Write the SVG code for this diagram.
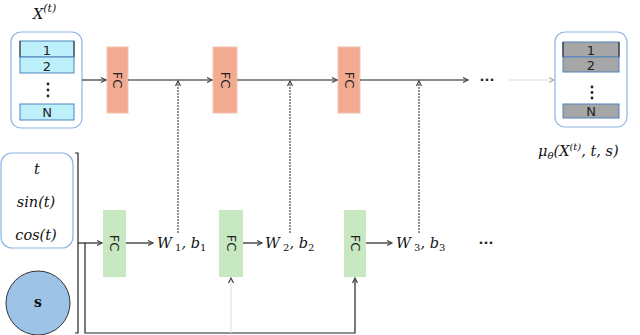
<svg xmlns="http://www.w3.org/2000/svg" width="640" height="335" viewBox="0 0 640 335">
<style>
.fco{fill:#f2ab90;stroke:#f6c4b0;stroke-width:1}
.fcg{fill:#c8e8c2}
.fct{font-family:"DejaVu Sans",sans-serif;font-size:13px;fill:#222}
.rowc{fill:#bdf0fa;stroke:#4f81bd;stroke-width:1}
.rowg{fill:#a6a6a6;stroke:#4f81bd;stroke-width:1}
.rt{font-family:"DejaVu Sans",sans-serif;font-size:13px;fill:#222;text-anchor:middle}
.box{fill:#fff;stroke:#8db4e2;stroke-width:1.2}
.math{font-family:"DejaVu Serif",serif;font-style:italic;font-size:14.5px;fill:#111}
.sub{font-size:10px;font-style:normal}
.main{fill:none;stroke:#666;stroke-width:1.6}
.dot{fill:none;stroke:#222;stroke-width:1;stroke-dasharray:2,1}
.blk{fill:none;stroke:#222;stroke-width:1.2}
</style>
<defs>
<marker id="ah" markerWidth="8" markerHeight="8" refX="6" refY="4" orient="auto" markerUnits="userSpaceOnUse">
<path d="M1,1.5 L6,4 L1,6.5" fill="none" stroke="#444" stroke-width="1.2"/>
</marker>
<marker id="ahl" markerWidth="8" markerHeight="8" refX="6" refY="4" orient="auto" markerUnits="userSpaceOnUse">
<path d="M1,1.5 L6,4 L1,6.5" fill="none" stroke="#999" stroke-width="1"/>
</marker>
</defs>

<text x="33" y="19" class="math" font-size="16">X<tspan dy="-7" font-size="11">(t)</tspan></text>

<g id="input-x">
<rect x="11" y="32" width="71" height="96" rx="10" class="box"/>
<rect x="20" y="41" width="54" height="16" class="rowc"/>
<line x1="20" y1="41" x2="20" y2="57" stroke="#444" stroke-width="1.2"/>
<line x1="74" y1="41" x2="74" y2="57" stroke="#444" stroke-width="1.2"/>
<text x="47" y="54.5" class="rt">1</text>
<rect x="20" y="57" width="54" height="16" class="rowc"/>
<text x="47" y="70.5" class="rt">2</text>
<circle cx="48" cy="84" r="1.4" fill="#222"/>
<circle cx="48" cy="90" r="1.4" fill="#222"/>
<circle cx="48" cy="96" r="1.4" fill="#222"/>
<rect x="20" y="104" width="54" height="16" class="rowc"/>
<text x="47" y="117" class="rt">N</text>
</g>

<g id="fc-top-1"><rect x="107" y="47" width="21" height="66" class="fco"/><text transform="translate(113,80) rotate(90)" class="fct" text-anchor="middle">FC</text></g>
<g id="fc-top-2"><rect x="213" y="47" width="24" height="66" class="fco"/><text transform="translate(220.5,80) rotate(90)" class="fct" text-anchor="middle">FC</text></g>
<g id="fc-top-3"><rect x="338" y="47" width="22" height="66" class="fco"/><text transform="translate(344.5,80) rotate(90)" class="fct" text-anchor="middle">FC</text></g>

<g id="top-dots"><text x="487" y="84" font-family="DejaVu Sans,sans-serif" font-size="13" font-weight="bold" text-anchor="middle" fill="#222">···</text></g>

<g id="output">
<rect x="555" y="32" width="72" height="95" rx="10" class="box"/>
<rect x="563" y="42" width="56" height="15" class="rowg"/>
<line x1="563" y1="42" x2="563" y2="57" stroke="#333" stroke-width="1.2"/>
<line x1="619" y1="42" x2="619" y2="57" stroke="#333" stroke-width="1.2"/>
<text x="591" y="55" class="rt">1</text>
<rect x="563" y="57" width="56" height="15" class="rowg"/>
<text x="591" y="69.5" class="rt">2</text>
<circle cx="592" cy="87" r="1.4" fill="#222"/>
<circle cx="592" cy="92.5" r="1.4" fill="#222"/>
<circle cx="592" cy="98" r="1.4" fill="#222"/>
<rect x="563" y="104" width="56" height="14" class="rowg"/>
<text x="591" y="116" class="rt">N</text>
</g>
<text x="538" y="156" class="math">μ<tspan dy="3" font-size="10">θ</tspan><tspan dy="-3">(X</tspan><tspan dy="-6" font-size="10">(t)</tspan><tspan dy="6">, t, s)</tspan></text>

<g id="input-t">
<rect x="1" y="153" width="72" height="95" rx="11" class="box"/>
<text x="37" y="174" class="math" text-anchor="middle">t</text>
<text x="36" y="207" class="math" text-anchor="middle">sin(t)</text>
<text x="36" y="240" class="math" text-anchor="middle">cos(t)</text>
</g>

<g id="input-s">
<circle cx="38" cy="303" r="32" fill="#9dc3e6" stroke="#333" stroke-width="1"/>
<text x="38" y="307" font-family="DejaVu Serif,serif" font-weight="bold" font-size="14" text-anchor="middle" fill="#111">s</text>
</g>

<g id="fc-bot-1"><rect x="103" y="210" width="23" height="67" class="fcg"/><text transform="translate(110,243) rotate(90)" class="fct" text-anchor="middle">FC</text></g>
<g id="fc-bot-2"><rect x="219" y="210" width="24" height="67" class="fcg"/><text transform="translate(226.5,243) rotate(90)" class="fct" text-anchor="middle">FC</text></g>
<g id="fc-bot-3"><rect x="344" y="210" width="22" height="67" class="fcg"/><text transform="translate(350.5,243) rotate(90)" class="fct" text-anchor="middle">FC</text></g>

<g id="w1"><text x="157" y="248" class="math">W<tspan class="sub" dy="3"> 1</tspan><tspan dy="-3">, b</tspan><tspan class="sub" dy="3">1</tspan></text></g>
<g id="w2"><text x="265" y="248" class="math">W<tspan class="sub" dy="3"> 2</tspan><tspan dy="-3">, b</tspan><tspan class="sub" dy="3">2</tspan></text></g>
<g id="w3"><text x="396" y="248" class="math">W<tspan class="sub" dy="3"> 3</tspan><tspan dy="-3">, b</tspan><tspan class="sub" dy="3">3</tspan></text></g>
<g id="bot-dots"><text x="486" y="247" font-family="DejaVu Sans,sans-serif" font-size="13" font-weight="bold" text-anchor="middle" fill="#222">···</text></g>

<g id="connectors">
<line x1="82" y1="80" x2="106" y2="80" class="main" marker-end="url(#ah)"/>
<line x1="128" y1="80" x2="212" y2="80" class="main" marker-end="url(#ah)"/>
<line x1="237" y1="80" x2="337" y2="80" class="main" marker-end="url(#ah)"/>
<line x1="360" y1="80" x2="468" y2="80" class="main" marker-end="url(#ah)"/>
<line x1="509" y1="80" x2="554" y2="80" stroke="#ddd" stroke-width="1.2" marker-end="url(#ahl)"/>
<line x1="178" y1="233" x2="178" y2="81" class="dot" marker-end="url(#ah)"/>
<line x1="290" y1="233" x2="290" y2="81" class="dot" marker-end="url(#ah)"/>
<line x1="419" y1="233" x2="419" y2="81" class="dot" marker-end="url(#ah)"/>
<path d="M75,153 H78 V333 H75" class="blk"/>
<line x1="78" y1="243" x2="102" y2="243" class="blk" marker-end="url(#ah)"/>
<line x1="126" y1="243" x2="153" y2="243" class="blk" marker-end="url(#ah)"/>
<line x1="243" y1="243" x2="262" y2="243" class="blk" marker-end="url(#ah)"/>
<line x1="366" y1="243" x2="392" y2="243" class="blk" marker-end="url(#ah)"/>
<path d="M85,243 V333 H355 V278" class="blk" marker-end="url(#ah)"/>
<line x1="231" y1="333" x2="231" y2="278" stroke="#ddd" stroke-width="1" marker-end="url(#ah)"/>
</g>
</svg>
